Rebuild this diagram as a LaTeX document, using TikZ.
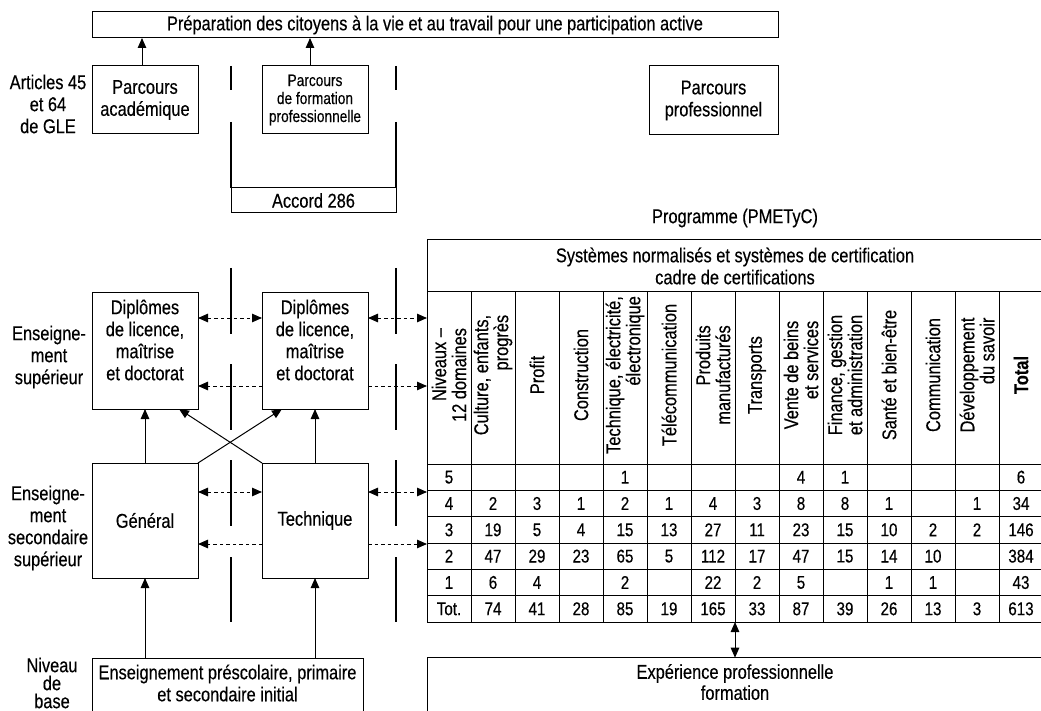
\documentclass[tikz,border=0pt]{standalone}
\usepackage{fontspec}
\setmainfont{Liberation Sans}[FakeStretch=0.82,FakeBold=0.35]
\usetikzlibrary{arrows.meta,calc}
\begin{document}
\begin{tikzpicture}[x=1pt,y=-1pt,
  every node/.style={inner sep=0pt, outer sep=0pt, align=center, font=\fontsize{20}{22}\selectfont},
  box/.style={draw, line width=1pt},
  bar/.style={line width=2.5pt},
  grid/.style={line width=1pt},
  arr/.style={line width=1pt, -{Triangle[length=10pt,width=8.5pt]}},
  darr/.style={line width=1pt, {Triangle[length=10pt,width=8.5pt]}-{Triangle[length=10pt,width=8.5pt]}},
  dotline/.style={dash pattern=on 3.5pt off 3pt},
  small/.style={font=\fontsize{16.7}{18}\selectfont},
  head/.style={rotate=90, align=right, font=\fontsize{20}{20}\selectfont},
  num/.style={font=\fontsize{18.5}{20}\selectfont},
]
\useasboundingbox (0,0) rectangle (1041,711);
\coordinate (bot) at (0,730);
\coordinate (r1) at (0,318);
\coordinate (r2) at (0,386);
\coordinate (r3) at (0,492);
\coordinate (r4) at (0,544);

% ---------- top part ----------
\node[box, minimum width=686, minimum height=26] (top) at (435,25)
  {Préparation des citoyens à la vie et au travail pour une participation active};
\node[box, minimum width=106, minimum height=68] (acad) at (145,100) {Parcours\\académique};
\node[box, small, minimum width=106, minimum height=68] (fpro) at (315,100) {Parcours\\de formation\\professionnelle};
\node[box, minimum width=129, minimum height=69] (ppro) at (713.5,100.5) {Parcours\\professionnel};
\node[box, minimum width=165, minimum height=25] (accord) at (313.5,200.5) {Accord 286};
\node (art) at (48,104) {Articles 45\\et 64\\de GLE};

\coordinate (acadup) at ($(acad.north)+(-3,0)$);
\coordinate (fproup) at ($(fpro.north)+(-5,0)$);
\draw[arr] (acadup) -- (acadup |- top.south);
\draw[arr] (fproup) -- (fproup |- top.south);

\draw[bar] (231,66) -- (231,90);
\draw[bar] (396,66) -- (396,90);
\draw[bar] (231,122) -- (accord.north west);
\draw[bar] (396,122) -- (accord.north east);

% ---------- left part ----------
\node (lsup) at (49,357) {Enseigne-\\ment\\supérieur};
\node (lsec) at (48,528) {Enseigne-\\ment\\secondaire\\supérieur};
\node[font=\fontsize{20}{18}\selectfont] (lbase) at (52,683) {Niveau\\de\\base};

\node[box, minimum width=106, minimum height=116] (dip1) at (145,351) {};
\node (dip1t) at (145,340) {Diplômes\\de licence,\\maîtrise\\et doctorat};
\node[box, minimum width=106, minimum height=116] (dip2) at (315,351) {};
\node (dip2t) at (315,340) {Diplômes\\de licence,\\maîtrise\\et doctorat};

\node[box, minimum width=106, minimum height=115] (gen) at (145,520.5) {Général};
\node[box, minimum width=106, minimum height=115] (tech) at (315,520.5) {Technique};

\node[minimum width=271, minimum height=20, anchor=north west] (base) at (92,658) {};
\draw[grid] (base.west |- bot) -- (base.north west) -- (base.north east) -- (base.east |- bot);
\node (baset) at (227.5,683) {Enseignement préscolaire, primaire\\et secondaire initial};

\foreach \xx in {231,396}{
  \draw[bar] (\xx,268) -- (\xx,334);
  \draw[bar] (\xx,364) -- (\xx,430);
  \draw[bar] (\xx,460) -- (\xx,526);
  \draw[bar] (\xx,557) -- (\xx,622);
}

\draw[arr] (gen.south |- base.north) -- (gen.south);
\draw[arr] (tech.south |- base.north) -- (tech.south);
\draw[arr] (gen.north) -- (dip1.south);
\draw[arr] (tech.north) -- (dip2.south);
\draw[arr] (gen.north east) -- ($(dip2.south west)+(20,0)$);
\draw[arr] (tech.north west) -- ($(dip1.south east)+(-19,0)$);

% ---------- table ----------
\node[minimum width=616, minimum height=382, anchor=north west] (tbl) at (427,240) {};
\node (prog) at (735,218) {Programme (PMETyC)};
\draw[grid] (tbl.north east) -- (tbl.north west) -- (tbl.south west) -- (tbl.south east);
\foreach \yy in {292,464,490.33,516.67,543,569.33,595.67}{
  \draw[grid] (427,\yy) -- (1043,\yy);
}
\foreach \k in {1,...,13}{
  \draw[grid] (427+44*\k,292) -- (427+44*\k,622);
}
\node (sys) at (735,266) {Systèmes normalisés et systèmes de certification\\cadre de certifications};

\foreach \t [count=\i from 0] in {{Niveaux –\\12 domaines},{Culture, enfants,\\progrès},{Profit},{Construction},{Technique, électricité,\\électronique},{Télécommunication},{Produits\\manufacturés},{Transports},{Vente de beins\\et services},{Finance, gestion\\et administration},{Santé et bien-être},{Communication},{Développement\\du savoir},{\textbf{Total}}}{
  \node[head] (h\i) at (449+44*\i,375) {\t};
}

\foreach \row [count=\r from 0] in {
  {5,,,,1,,,,4,1,,,,6},
  {4,2,3,1,2,1,4,3,8,8,1,,1,34},
  {3,19,5,4,15,13,27,11,23,15,10,2,2,146},
  {2,47,29,23,65,5,112,17,47,15,14,10,,384},
  {1,6,4,,2,,22,2,5,,1,1,,43},
  {Tot.,74,41,28,85,19,165,33,87,39,26,13,3,613}}{
  \foreach \v [count=\c from 0] in \row {
    \node[num] (n\r-\c) at (449+44*\c,477.17+26.33*\r) {\v};
  }
}

% dotted connectors
\draw[darr,dotline] (dip1.east |- r1) -- (dip2.west |- r1);
\draw[arr,dotline] (dip2.west |- r2) -- (dip1.east |- r2);
\draw[darr,dotline] (dip2.east |- r1) -- (tbl.west |- r1);
\draw[arr,dotline] (dip2.east |- r2) -- (tbl.west |- r2);
\draw[darr,dotline] (gen.east |- r3) -- (tech.west |- r3);
\draw[arr,dotline] (tech.west |- r4) -- (gen.east |- r4);
\draw[darr,dotline] (tech.east |- r3) -- (tbl.west |- r3);
\draw[arr,dotline] (tech.east |- r4) -- (tbl.west |- r4);

% ---------- bottom ----------
\node[minimum width=616, minimum height=20, anchor=north west] (exp) at (427,657.7) {};
\draw[grid] (exp.west |- bot) -- (exp.north west) -- (exp.north east);
\node[font=\fontsize{20}{21}\selectfont] (expt) at (735,682) {Expérience professionnelle\\formation};
\draw[darr] (tbl.south) -- (exp.north -| tbl.south);
\end{tikzpicture}
\end{document}
